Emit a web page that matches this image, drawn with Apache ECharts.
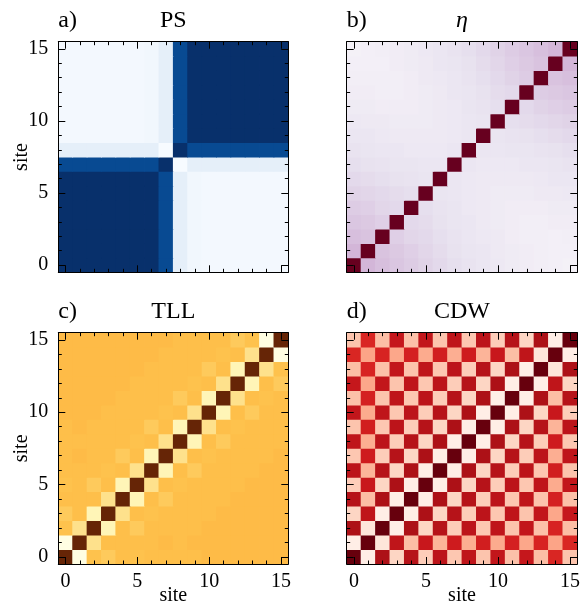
<!DOCTYPE html>
<html><head><meta charset="utf-8">
<script src="https://cdn.jsdelivr.net/npm/echarts@6/dist/echarts.min.js"></script>
<style>html,body{margin:0;padding:0;background:#fff}#c{width:583px;height:606px}</style>
</head><body><div id="c"></div>
<script>
const sites = ['0','1','2','3','4','5','6','7','8','9','10','11','12','13','14','15'];
const tickLabels = ['0','5','10','15'];
const panelTags = ['a)','b)','c)','d)'];
const panelTitles = ['PS','η','TLL','CDW'];

// rows indexed by y (site 0 at bottom), columns by x
const psRows = [
 [100,100,100,100,100,100,100,90,9,3,2,2,2,2,2,2],
 [100,100,100,100,100,100,100,90,9,3,2,2,2,2,2,2],
 [100,100,100,100,100,100,100,90,9,3,2,2,2,2,2,2],
 [100,100,100,100,100,100,100,90,9,3,2,2,2,2,2,2],
 [100,100,100,100,100,100,100,90,9,3,2,2,2,2,2,2],
 [100,100,100,100,100,100,100,90,9,3,2,2,2,2,2,2],
 [100,100,100,100,100,100,100,90,9,3,2,2,2,2,2,2],
 [90,90,90,90,90,90,90,100,0,9,9,9,9,9,9,9],
 [9,9,9,9,9,9,9,0,100,90,90,90,90,90,90,90],
 [2,2,2,2,2,2,3,9,90,100,100,100,100,100,100,100],
 [2,2,2,2,2,2,3,9,90,100,100,100,100,100,100,100],
 [2,2,2,2,2,2,3,9,90,100,100,100,100,100,100,100],
 [2,2,2,2,2,2,3,9,90,100,100,100,100,100,100,100],
 [2,2,2,2,2,2,3,9,90,100,100,100,100,100,100,100],
 [2,2,2,2,2,2,3,9,90,100,100,100,100,100,100,100],
 [2,2,2,2,2,2,3,9,90,100,100,100,100,100,100,100]
];
const etaRows = [
 [100,26,23,21,19,17,15,13,11,9,8,6,5,4,3,2],
 [26,100,22,20,18,16,14,12,10,9,7,6,5,4,3,3],
 [23,22,100,18,16,15,13,11,9,8,7,5,4,4,3,4],
 [21,20,18,100,15,14,12,10,9,7,6,5,4,4,5,5],
 [19,18,16,15,100,13,11,10,8,7,6,5,5,5,6,6],
 [17,16,15,14,13,100,10,9,8,7,6,6,6,7,7,8],
 [15,14,13,12,11,10,100,9,8,7,7,7,7,8,9,9],
 [13,12,11,10,10,9,9,100,9,8,8,8,9,9,10,11],
 [11,10,9,9,8,8,8,9,100,9,9,10,10,11,12,13],
 [9,9,8,7,7,7,7,8,9,100,10,11,12,13,14,15],
 [8,7,7,6,6,6,7,8,9,10,100,13,14,15,16,17],
 [6,6,5,5,5,6,7,8,10,11,13,100,15,17,18,19],
 [5,5,4,4,5,6,7,9,10,12,14,15,100,19,20,21],
 [4,4,4,4,5,7,8,9,11,13,15,17,19,100,22,23],
 [3,3,3,5,6,7,9,10,12,14,16,18,20,22,100,26],
 [2,3,4,5,6,8,9,11,13,15,17,19,21,23,26,100]
];
const tllRows = [
 [100,1,38,35,39,38,39,39,39,39,40,40,40,40,40,40],
 [1,100,26,39,39,39,39,40,39,40,40,40,40,40,40,40],
 [38,26,100,14,39,35,39,39,39,39,40,40,40,40,40,40],
 [35,39,14,100,26,39,38,39,39,39,39,40,40,40,40,40],
 [39,39,39,26,100,14,39,35,39,39,39,39,40,40,40,40],
 [38,39,35,39,14,100,26,39,38,39,39,39,39,40,40,40],
 [39,39,39,38,39,26,100,14,39,35,39,39,39,39,40,40],
 [39,40,39,39,35,39,14,100,26,39,38,39,39,39,39,40],
 [39,39,39,39,39,38,39,26,100,14,39,35,39,39,39,39],
 [39,40,39,39,39,39,35,39,14,100,26,39,38,39,39,39],
 [40,40,40,39,39,39,39,38,39,26,100,14,39,35,39,39],
 [40,40,40,40,39,39,39,39,35,39,14,100,26,39,38,39],
 [40,40,40,40,40,39,39,39,39,38,39,26,100,14,39,35],
 [40,40,40,40,40,40,39,39,39,39,35,39,14,100,26,38],
 [40,40,40,40,40,40,40,39,39,39,39,38,39,26,100,1],
 [40,40,40,40,40,40,40,40,39,39,39,39,35,38,1,100]
];
const cdwRows = [
 [100,4,85,16,82,19,80,21,79,22,78,23,77,24,70,22],
 [4,100,9,79,24,76,27,74,29,73,30,72,31,71,32,70],
 [85,9,100,4,85,16,82,19,80,21,79,22,78,23,71,24],
 [16,79,4,100,4,85,16,82,19,80,21,79,22,78,31,77],
 [82,24,85,4,100,4,85,16,82,19,80,21,79,22,72,23],
 [19,76,16,85,4,100,4,85,16,82,19,80,21,79,30,78],
 [80,27,82,16,85,4,100,4,85,16,82,19,80,21,73,22],
 [21,74,19,82,16,85,4,100,4,85,16,82,19,80,29,79],
 [79,29,80,19,82,16,85,4,100,4,85,16,82,19,74,21],
 [22,73,21,80,19,82,16,85,4,100,4,85,16,82,27,80],
 [78,30,79,21,80,19,82,16,85,4,100,4,85,16,76,19],
 [23,72,22,79,21,80,19,82,16,85,4,100,4,85,24,82],
 [77,31,78,22,79,21,80,19,82,16,85,4,100,4,79,16],
 [24,71,23,78,22,79,21,80,19,82,16,85,4,100,9,85],
 [70,32,71,31,72,30,73,29,74,27,76,24,79,9,100,4],
 [22,70,24,77,23,78,22,79,21,80,19,82,16,85,4,100]
];
const matrices = [psRows, etaRows, tllRows, cdwRows];

const BLUES = ['#f7fbff','#deebf7','#c6dbef','#9ecae1','#6baed6','#4292c6','#2171b5','#08519c','#08306b'];
const PURD = ['#f7f4f9','#e7e1ef','#d4b9da','#c994c7','#df65b0','#e7298a','#ce1256','#980043','#67001f'];
const YLORBR = ['#ffffe5','#fff7bc','#fee391','#fec44f','#fe9929','#ec7014','#cc4c02','#993404','#662506'];
const REDS = ['#fff5f0','#fee0d2','#fcbba1','#fc9272','#fb6a4a','#ef3b2c','#cb181d','#a50f15','#67000d'];
const palettes = [BLUES, PURD, YLORBR, REDS];

const FONT = '"Liberation Serif", "Times New Roman", serif';
const grids = [
  {left: 58.3, top: 41.7, width: 230, height: 230.6, outerBoundsMode: 'none'},
  {left: 346.7, top: 41.7, width: 230.6, height: 230.6, outerBoundsMode: 'none'},
  {left: 58.3, top: 332.7, width: 230, height: 231.3, outerBoundsMode: 'none'},
  {left: 346.7, top: 332.7, width: 230.6, height: 231.3, outerBoundsMode: 'none'}
];
const showX = [false, false, true, true];
const showY = [true, false, true, false];

const isMajor = (i, v) => tickLabels.indexOf(sites[i]) >= 0;

function mkAxis(g, pos, major, extra) {
  return Object.assign({
    gridIndex: g, type: 'category', data: sites, position: pos, boundaryGap: true,
    z: 10, silent: true, nameMoveOverlap: false,
    axisLine: {show: !major, onZero: false, lineStyle: {color: '#000', width: 1}},
    axisTick: {show: true, inside: true, alignWithLabel: true,
      interval: major ? isMajor : 0, length: major ? 7 : 3.5,
      lineStyle: {color: '#000', width: 1}},
    axisLabel: {show: false},
    splitLine: {show: false}, splitArea: {show: false},
    axisPointer: {show: false}
  }, extra || {});
}

// cell renderer: uses the axes' own coordinate mapping and band size
function renderCell(params, api) {
  const c = api.coord([api.value(0), api.value(1)]);
  const s = api.size([1, 1]);
  const pad = 0.4;
  return {
    type: 'rect',
    shape: {x: c[0] - s[0] / 2 - pad, y: c[1] - s[1] / 2 - pad, width: s[0] + 2 * pad, height: s[1] + 2 * pad},
    style: {fill: api.visual('color')}
  };
}

const xAxes = [], yAxes = [], series = [], visualMaps = [], graphics = [];
grids.forEach((gr, g) => {
  xAxes.push(mkAxis(g, 'bottom', false));
  xAxes.push(mkAxis(g, 'bottom', true, showX[g] ? {
    axisLabel: {show: true, interval: isMajor, margin: 8, color: '#000', fontFamily: FONT, fontSize: 20},
    name: 'site', nameLocation: 'middle', nameGap: 22,
    nameTextStyle: {color: '#000', fontFamily: FONT, fontSize: 20}
  } : {}));
  xAxes.push(mkAxis(g, 'top', false));
  xAxes.push(mkAxis(g, 'top', true, {
    name: panelTitles[g], nameLocation: 'middle', nameGap: 9,
    nameTextStyle: {color: '#000', fontFamily: FONT, fontSize: 24, fontStyle: g === 1 ? 'italic' : 'normal'}
  }));
  yAxes.push(mkAxis(g, 'left', false));
  yAxes.push(mkAxis(g, 'left', true, showY[g] ? {
    axisLabel: {show: true, interval: isMajor, margin: 10, color: '#000', fontFamily: FONT, fontSize: 20},
    name: 'site', nameLocation: 'middle', nameGap: 27, nameRotate: 90,
    nameTextStyle: {color: '#000', fontFamily: FONT, fontSize: 20}
  } : {}));
  yAxes.push(mkAxis(g, 'right', false));
  yAxes.push(mkAxis(g, 'right', true));

  const rows = matrices[g];
  const data = [];
  rows.forEach((row, y) => row.forEach((v, x) => data.push([x, y, v])));
  series.push({
    type: 'custom', xAxisIndex: 4 * g, yAxisIndex: 4 * g, data: data,
    encode: {x: 0, y: 1}, renderItem: renderCell, clip: true, silent: true, z: 2
  });
  visualMaps.push({
    type: 'continuous', show: false, seriesIndex: g, min: 0, max: 100,
    dimension: 2, inRange: {color: palettes[g]}
  });
  graphics.push({
    type: 'text', x: gr.left, y: gr.top - 33,
    style: {text: panelTags[g], font: '24px ' + FONT, fill: '#000'}
  });
});

const chart = echarts.init(document.getElementById('c'), null, {renderer: 'canvas'});
chart.setOption({
  animation: false,
  backgroundColor: '#fff',
  grid: grids,
  xAxis: xAxes,
  yAxis: yAxes,
  visualMap: visualMaps,
  series: series,
  graphic: graphics
});
</script></body></html>
